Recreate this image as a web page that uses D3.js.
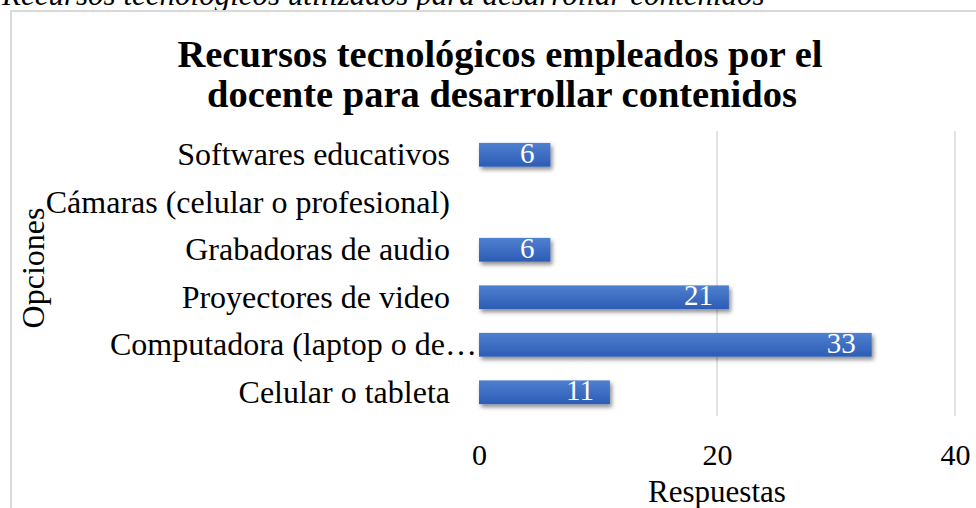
<!DOCTYPE html>
<html><head>
<meta charset="utf-8">
<script src="https://d3js.org/d3.v7.min.js"></script>
<style>
  body { margin: 0; background: #fff; }
  svg text { font-family: "Liberation Serif", "Times New Roman", serif; }
</style>
</head>
<body>
<svg id="chart" width="976" height="508"></svg>
<script>
  // data
  const categories = ["Softwares educativos", "Cámaras (celular o profesional)", "Grabadoras de audio",
                      "Proyectores de video", "Computadora (laptop o de…", "Celular o tableta"];
  const values = [6, 0, 6, 21, 33, 11];
  const xTicks = [0, 20, 40];

  const rows = categories.map((c, i) => ({ cat: c, val: values[i] }));

  const svg = d3.select("#chart");

  // gradient + shadow for the bars
  const defs = svg.append("defs");
  const grad = defs.append("linearGradient").attr("id", "barGrad")
                   .attr("x1", 0).attr("y1", 0).attr("x2", 0).attr("y2", 1);
  grad.append("stop").attr("offset", "0%").attr("stop-color", "#5080cf");
  grad.append("stop").attr("offset", "100%").attr("stop-color", "#2c5cb6");
  const shadow = defs.append("filter").attr("id", "shadow")
                     .attr("x", "-10%").attr("y", "-30%").attr("width", "130%").attr("height", "180%");
  shadow.append("feDropShadow").attr("dx", 2).attr("dy", 3).attr("stdDeviation", 2)
        .attr("flood-color", "#000").attr("flood-opacity", 0.45);

  // caption above the chart box (cut off at top)
  svg.append("text").attr("x", 2).attr("y", 5)
     .attr("font-size", 31).attr("font-style", "italic").attr("fill", "#000")
     .text("Recursos tecnológicos utilizados para desarrollar contenidos");

  // chart border
  svg.append("path").attr("d", "M11,508 V11 H976")
     .attr("fill", "none").attr("stroke", "#d9d9d9").attr("stroke-width", 2);

  // title
  const title = svg.append("text").attr("text-anchor", "middle")
                   .attr("font-size", 38.5).attr("font-weight", "bold").attr("fill", "#000");
  title.append("tspan").attr("x", 500).attr("y", 67).text("Recursos tecnológicos empleados por el");
  title.append("tspan").attr("x", 502).attr("y", 107).text("docente para desarrollar contenidos");

  // scales
  const x = d3.scaleLinear().domain([0, 40]).range([479, 955]);
  const y = d3.scaleBand().domain(categories).range([131, 416]).paddingInner(0.5).paddingOuter(0.25);

  // gridlines
  svg.append("g").selectAll("line").data(xTicks.slice(1)).join("line")
     .attr("x1", d => x(d)).attr("x2", d => x(d))
     .attr("y1", 131).attr("y2", 416)
     .attr("stroke", "#d9d9d9").attr("stroke-width", 1.5);

  // y axis labels (drawn before bars so the truncated one can run under the bar)
  const yAxis = svg.append("g").attr("transform", "translate(479,0)")
                   .call(d3.axisLeft(y).tickSize(0).tickPadding(29));
  yAxis.select(".domain").remove();
  yAxis.selectAll("text").attr("font-size", 32).attr("fill", "#000")
       .attr("dx", d => d.endsWith("…") ? 27 : 0);

  // bars
  svg.append("g").selectAll("rect").data(rows).join("rect")
     .attr("x", x(0))
     .attr("y", d => y(d.cat))
     .attr("width", d => Math.max(x(d.val) - x(0), 2))
     .attr("height", y.bandwidth())
     .attr("fill", d => d.val > 0 ? "url(#barGrad)" : "#fff")
     .attr("filter", d => d.val > 0 ? "url(#shadow)" : null);

  // value labels (inside end)
  svg.append("g").selectAll("text").data(rows.filter(d => d.val > 0)).join("text")
     .attr("x", d => x(d.val) - 16)
     .attr("y", d => y(d.cat) + y.bandwidth() / 2 + 8)
     .attr("text-anchor", "end")
     .attr("font-size", 29).attr("fill", "#fff")
     .text(d => d.val);

  // x axis labels
  const xAxis = svg.append("g").attr("transform", "translate(0,465)")
                   .call(d3.axisBottom(x).tickValues(xTicks).tickSize(0).tickPadding(0));
  xAxis.select(".domain").remove();
  xAxis.selectAll("text").attr("font-size", 30).attr("fill", "#000").attr("dy", 0);

  // axis titles
  svg.append("text").attr("x", 717).attr("y", 502).attr("text-anchor", "middle")
     .attr("font-size", 31).attr("fill", "#000").text("Respuestas");
  svg.append("text").attr("transform", "translate(44,268) rotate(-90)").attr("text-anchor", "middle")
     .attr("font-size", 32).attr("fill", "#000").text("Opciones");
</script>
</body>
</html>
